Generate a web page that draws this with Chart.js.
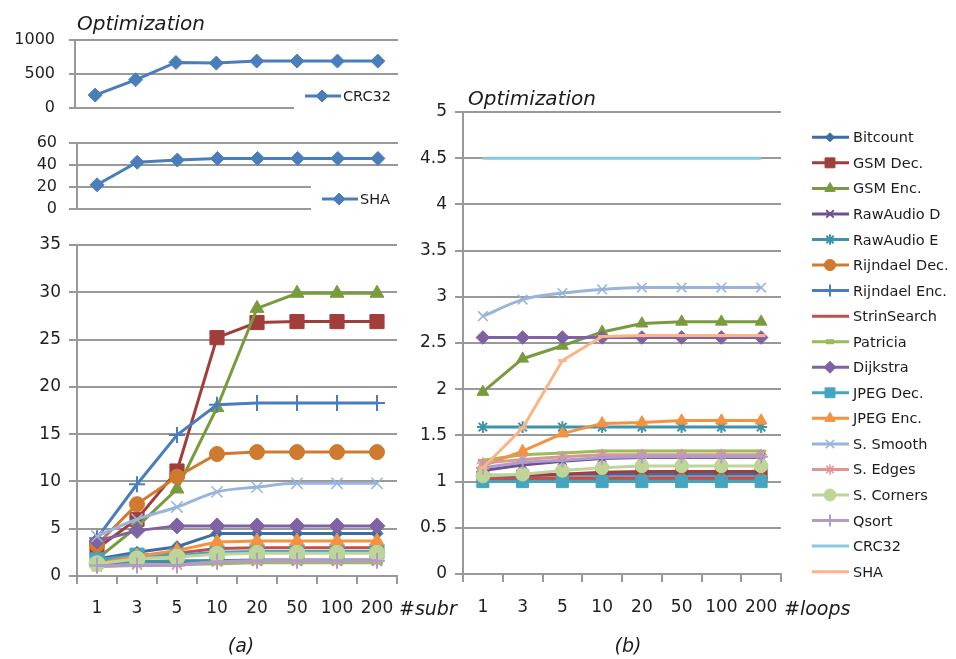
<!DOCTYPE html>
<html>
<head>
<meta charset="utf-8">
<script src="https://cdn.jsdelivr.net/npm/chart.js@4.4.1/dist/chart.umd.min.js"></script>
<style>
  html, body { margin: 0; padding: 0; background: #fff; }
  #stage { position: relative; width: 956px; height: 659px; overflow: hidden;
           font-family: "DejaVu Sans", sans-serif; color: #1c1c1c; }
  #stage canvas { position: absolute; left: 0; top: 0; }
  .t { position: absolute; white-space: nowrap; line-height: 1; transform: translateY(-50%); }
  .c { transform: translate(-50%, -50%); }
  .i { font-style: italic; }
  .lg { font-size: 14.5px; }
</style>
</head>
<body>
<div id="stage">
  <canvas id="chartCrc" width="956" height="659"></canvas>
  <canvas id="chartSha" width="956" height="659"></canvas>
  <canvas id="chartSubr" width="956" height="659"></canvas>
  <canvas id="chartLoops" width="956" height="659"></canvas>
  <canvas id="legendMarks" width="956" height="659"></canvas>

  <div class="t i" style="left:77px;top:23px;font-size:20px;">Optimization</div>
  <div class="t i" style="left:468px;top:98px;font-size:20px;">Optimization</div>
  <div class="t i" style="left:399px;top:608px;font-size:19px;">#subr</div>
  <div class="t i" style="left:784px;top:608px;font-size:19px;">#loops</div>
  <div class="t c i" style="left:241px;top:645px;font-size:19px;">(a)</div>
  <div class="t c i" style="left:628px;top:645px;font-size:19px;">(b)</div>
  <div class="t lg" style="left:343px;top:96px;">CRC32</div>
  <div class="t lg" style="left:360px;top:199px;">SHA</div>
  <div id="legendText"></div>
</div>

<script>
// x categories shared by both panels
const categories = ['1', '3', '5', '10', '20', '50', '100', '200'];

// Panel (a): speed-up versus number of subroutines
const crc32Subr       = [190, 415, 670, 660, 690, 690, 690, 690];
const shaSubr         = [22, 42.5, 44.5, 46, 46, 46, 46, 46];
const bitcountSubr    = [1.8, 2.5, 3.1, 4.5, 4.5, 4.5, 4.5, 4.5];
const gsmDecSubr      = [2.9, 6.0, 11.1, 25.2, 26.8, 26.9, 26.9, 26.9];
const gsmEncSubr      = [1.8, 5.2, 9.2, 17.8, 28.3, 29.9, 29.9, 29.9];
const rawAudioDSubr   = [1.4, 1.5, 1.5, 1.6, 1.7, 1.7, 1.7, 1.7];
const rawAudioESubr   = [1.5, 1.5, 1.6, 1.6, 1.6, 1.6, 1.6, 1.6];
const rijndaelDecSubr = [3.3, 7.6, 10.5, 12.9, 13.1, 13.1, 13.1, 13.1];
const rijndaelEncSubr = [4.0, 9.7, 14.9, 18.1, 18.3, 18.3, 18.3, 18.3];
const strinSearchSubr = [1.6, 2.2, 2.4, 2.9, 3.0, 3.0, 3.0, 3.0];
const patriciaSubr    = [1.0, 1.1, 1.2, 1.3, 1.4, 1.4, 1.4, 1.4];
const dijkstraSubr    = [3.7, 4.8, 5.3, 5.3, 5.3, 5.3, 5.3, 5.3];
const jpegDecSubr     = [1.7, 2.2, 2.2, 2.5, 2.6, 2.6, 2.6, 2.6];
const jpegEncSubr     = [1.3, 2.1, 2.7, 3.6, 3.7, 3.7, 3.7, 3.7];
const sSmoothSubr     = [4.2, 6.0, 7.3, 8.9, 9.4, 9.8, 9.8, 9.8];
const sEdgesSubr      = [1.0, 1.2, 1.2, 1.5, 1.6, 1.6, 1.6, 1.6];
const sCornersSubr    = [1.3, 1.8, 2.0, 2.3, 2.4, 2.4, 2.4, 2.4];
const qsortSubr       = [1.1, 1.1, 1.1, 1.5, 1.6, 1.6, 1.6, 1.6];

// Panel (b): speed-up versus number of loops
const bitcountLoops    = [1.07, 1.07, 1.08, 1.08, 1.08, 1.08, 1.08, 1.08];
const gsmDecLoops      = [1.05, 1.06, 1.08, 1.10, 1.11, 1.11, 1.11, 1.11];
const gsmEncLoops      = [1.97, 2.33, 2.47, 2.62, 2.71, 2.73, 2.73, 2.73];
const rawAudioDLoops   = [1.12, 1.18, 1.22, 1.25, 1.26, 1.26, 1.26, 1.26];
const rawAudioELoops   = [1.59, 1.59, 1.59, 1.59, 1.59, 1.59, 1.59, 1.59];
const rijndaelDecLoops = [1.02, 1.02, 1.02, 1.02, 1.02, 1.02, 1.02, 1.02];
const rijndaelEncLoops = [1.04, 1.04, 1.04, 1.04, 1.04, 1.04, 1.04, 1.04];
const strinSearchLoops = [1.03, 1.03, 1.04, 1.04, 1.04, 1.04, 1.04, 1.04];
const patriciaLoops    = [1.23, 1.29, 1.31, 1.33, 1.33, 1.33, 1.33, 1.33];
const dijkstraLoops    = [2.56, 2.56, 2.56, 2.56, 2.56, 2.56, 2.56, 2.56];
const jpegDecLoops     = [1.00, 1.00, 1.00, 1.00, 1.00, 1.00, 1.00, 1.00];
const jpegEncLoops     = [1.17, 1.33, 1.52, 1.63, 1.64, 1.66, 1.66, 1.66];
const sSmoothLoops     = [2.79, 2.97, 3.04, 3.08, 3.10, 3.10, 3.10, 3.10];
const sEdgesLoops      = [1.20, 1.24, 1.27, 1.29, 1.29, 1.29, 1.29, 1.29];
const sCornersLoops    = [1.06, 1.08, 1.12, 1.15, 1.17, 1.17, 1.17, 1.17];
const qsortLoops       = [1.15, 1.21, 1.23, 1.26, 1.27, 1.27, 1.27, 1.27];
const crc32Loops       = [4.50, 4.50, 4.50, 4.50, 4.50, 4.50, 4.50, 4.50];
const shaLoops         = [1.15, 1.58, 2.31, 2.57, 2.58, 2.58, 2.58, 2.58];

// Axis ticks
const crcTicks   = { min: 0, max: 1000, step: 500 };
const shaTicks   = { min: 0, max: 60, step: 20 };
const subrTicks  = { min: 0, max: 35, step: 5 };
const loopsTicks = { min: 0, max: 5, step: 0.5 };

// Series appearance
const STYLE = {
  'Bitcount':      { color: '#3E6DA6', point: 'rectRot',  r: 6,   pbw: 1 },
  'GSM Dec.':      { color: '#A13E3B', point: 'rect',     r: 10,  pbw: 1 },
  'GSM Enc.':      { color: '#7A9A3E', point: 'triangle', r: 8,   pbw: 1 },
  'RawAudio D':    { color: '#6E4F92', point: 'crossRot', r: 7,   pbw: 2 },
  'RawAudio E':    { color: '#3D94A8', point: 'star',     r: 7,   pbw: 2 },
  'Rijndael Dec.': { color: '#D07A30', point: 'circle',   r: 7.5, pbw: 1 },
  'Rijndael Enc.': { color: '#4A7DC0', point: 'cross',    r: 8,   pbw: 2 },
  'StrinSearch':   { color: '#C24F4C', point: false },
  'Patricia':      { color: '#9BBB59', point: 'line',     r: 6,   pbw: 3 },
  'Dijkstra':      { color: '#7F62A3', point: 'rectRot',  r: 8,   pbw: 1 },
  'JPEG Dec.':     { color: '#45A5C0', point: 'rect',     r: 10,  pbw: 1 },
  'JPEG Enc.':     { color: '#F5913F', point: 'triangle', r: 8,   pbw: 1 },
  'S. Smooth':     { color: '#98B4DA', point: 'crossRot', r: 8,   pbw: 1.5, smooth: true },
  'S. Edges':      { color: '#DC9795', point: 'star',     r: 7,   pbw: 1.5 },
  'S. Corners':    { color: '#BFD598', point: 'circle',   r: 8,   pbw: 1 },
  'Qsort':         { color: '#AE9CC9', point: 'cross',    r: 8,   pbw: 2 },
  'CRC32':         { color: '#86CADC', point: false },
  'SHA':           { color: '#F9B587', point: 'line',     r: 5,   pbw: 3, legendPlain: true }
};

const subrSeries = [
  ['Bitcount', bitcountSubr], ['GSM Dec.', gsmDecSubr], ['GSM Enc.', gsmEncSubr],
  ['RawAudio D', rawAudioDSubr], ['RawAudio E', rawAudioESubr], ['Rijndael Dec.', rijndaelDecSubr],
  ['Rijndael Enc.', rijndaelEncSubr], ['StrinSearch', strinSearchSubr], ['Patricia', patriciaSubr],
  ['Dijkstra', dijkstraSubr], ['JPEG Dec.', jpegDecSubr], ['JPEG Enc.', jpegEncSubr],
  ['S. Smooth', sSmoothSubr], ['S. Edges', sEdgesSubr], ['S. Corners', sCornersSubr], ['Qsort', qsortSubr]
];
const loopsSeries = [
  ['Bitcount', bitcountLoops], ['GSM Dec.', gsmDecLoops], ['GSM Enc.', gsmEncLoops],
  ['RawAudio D', rawAudioDLoops], ['RawAudio E', rawAudioELoops], ['Rijndael Dec.', rijndaelDecLoops],
  ['Rijndael Enc.', rijndaelEncLoops], ['StrinSearch', strinSearchLoops], ['Patricia', patriciaLoops],
  ['Dijkstra', dijkstraLoops], ['JPEG Dec.', jpegDecLoops], ['JPEG Enc.', jpegEncLoops],
  ['S. Smooth', sSmoothLoops], ['S. Edges', sEdgesLoops], ['S. Corners', sCornersLoops], ['Qsort', qsortLoops],
  ['CRC32', crc32Loops], ['SHA', shaLoops]
];

const W = 956, H = 659;
const GRID = '#999999';
const TXT = '#1f1f1f';
const FONT = 'DejaVu Sans';

// plain number labels: 1000, 4.5, 5
const plain = (v) => String(Math.round(v * 100) / 100);

function makeDataset(name, data, k, index) {
  const st = STYLE[name];
  return {
    label: name,
    data: data,
    order: -index,               // later series are painted on top
    borderColor: st.color,
    backgroundColor: st.color,
    borderWidth: 3,
    pointStyle: st.point || 'circle',
    pointRadius: st.point ? st.r * k : 0,
    pointBorderWidth: st.pbw || 1,
    pointBorderColor: st.color,
    pointBackgroundColor: st.color,
    tension: st.smooth ? 0.4 : 0,
    cubicInterpolationMode: st.smooth ? 'monotone' : 'default',
    clip: false
  };
}

function singleDataset(name, data) {
  return {
    label: name, data: data, order: 0,
    borderColor: '#4A7EBB', backgroundColor: '#4A7EBB', borderWidth: 3,
    pointStyle: 'rectRot', pointRadius: 7, pointBorderWidth: 1,
    pointBorderColor: '#4A7EBB', pointBackgroundColor: '#4A7EBB', tension: 0, clip: false
  };
}

function makeChart(id, area, ticks, datasets) {
  const showX = !!area.xLabels;
  return new Chart(document.getElementById(id), {
    type: 'line',
    data: { labels: categories, datasets: datasets },
    options: {
      responsive: false,
      animation: false,
      devicePixelRatio: 1,
      events: [],
      layout: { padding: { left: 0, top: area.top, right: W - area.right,
                           bottom: showX ? 0 : H - area.bottom } },
      plugins: { legend: { display: false }, tooltip: { enabled: false }, title: { display: false } },
      scales: {
        x: showX ? {
          offset: true,
          grid: { display: true, drawOnChartArea: false, drawTicks: true, tickLength: 8,
                  offset: true, color: GRID, lineWidth: 2 },
          border: { display: true, color: GRID, width: 2 },
          ticks: { padding: area.xPad, color: TXT, font: { family: FONT, size: 17 },
                   maxRotation: 0, autoSkip: false },
          afterFit: (s) => { s.height = H - area.bottom; }
        } : { display: false, offset: true },
        y: {
          min: ticks.min, max: ticks.max,
          ticks: { stepSize: ticks.step, padding: area.yPad, color: TXT, autoSkip: false,
                   callback: plain, font: { family: FONT, size: area.yFont } },
          grid: { color: GRID, lineWidth: 2, drawTicks: true, tickLength: area.tick },
          border: { display: true, color: GRID, width: 2 },
          afterFit: (s) => { s.width = area.left; }
        }
      }
    }
  });
}

// Panel (a), top: CRC32
makeChart('chartCrc', { left: 75, right: 398, top: 40, bottom: 108, tick: 6, yPad: 14, yFont: 16 },
  crcTicks, [singleDataset('CRC32', crc32Subr)]);

// Panel (a), middle: SHA
makeChart('chartSha', { left: 77, right: 398, top: 143, bottom: 209, tick: 8, yPad: 12, yFont: 16 },
  shaTicks, [singleDataset('SHA', shaSubr)]);

// Panel (a), bottom: the other benchmarks
makeChart('chartSubr', { left: 77, right: 397, top: 245, bottom: 576, tick: 8, yPad: 8, yFont: 17,
                         xLabels: true, xPad: 14 },
  subrTicks, subrSeries.map((s, i) => makeDataset(s[0], s[1], 1, i)));

// Panel (b)
makeChart('chartLoops', { left: 463, right: 781, top: 112, bottom: 574, tick: 8, yPad: 8, yFont: 17,
                          xLabels: true, xPad: 15 },
  loopsTicks, loopsSeries.map((s, i) => makeDataset(s[0], s[1], 0.85, i)));

// Legend swatches: a short line with the series marker
const lctx = document.getElementById('legendMarks').getContext('2d');

function marker(ctx, color, style, r, bw, x, y, x0, x1) {
  ctx.save();
  ctx.strokeStyle = color; ctx.fillStyle = color; ctx.lineWidth = 3;
  ctx.beginPath(); ctx.moveTo(x0, y); ctx.lineTo(x1, y); ctx.stroke();
  if (style) {
    ctx.lineWidth = bw;
    if (Chart.helpers && Chart.helpers.drawPoint) {
      Chart.helpers.drawPoint(ctx, { pointStyle: style, radius: r, borderWidth: bw, rotation: 0 }, x, y);
    } else {
      ctx.beginPath(); ctx.arc(x, y, r, 0, Math.PI * 2); ctx.fill();
    }
  }
  ctx.restore();
}

// boxes behind the two small legends of panel (a)
lctx.fillStyle = '#ffffff';
lctx.fillRect(294, 84, 106, 28);
lctx.fillRect(311, 176, 90, 37);
marker(lctx, '#4A7EBB', 'rectRot', 6, 1, 322, 96, 305, 341);
marker(lctx, '#4A7EBB', 'rectRot', 6, 1, 339, 199, 322, 358);

const legendNames = loopsSeries.map((s) => s[0]);
const legendBox = document.getElementById('legendText');
legendNames.forEach((name, i) => {
  const y = 137.3 + 25.55 * i;
  const st = STYLE[name];
  const pt = st.legendPlain ? false : st.point;
  const r = st.point === 'line' ? 4 : Math.min(st.r * 0.75, 7);
  marker(lctx, st.color, pt, r, st.point === 'line' ? 5 : st.pbw, 830, y, 812, 849);
  const d = document.createElement('div');
  d.className = 't lg';
  d.style.left = '853px';
  d.style.top = y + 'px';
  d.textContent = name;
  legendBox.appendChild(d);
});
</script>
</body>
</html>
